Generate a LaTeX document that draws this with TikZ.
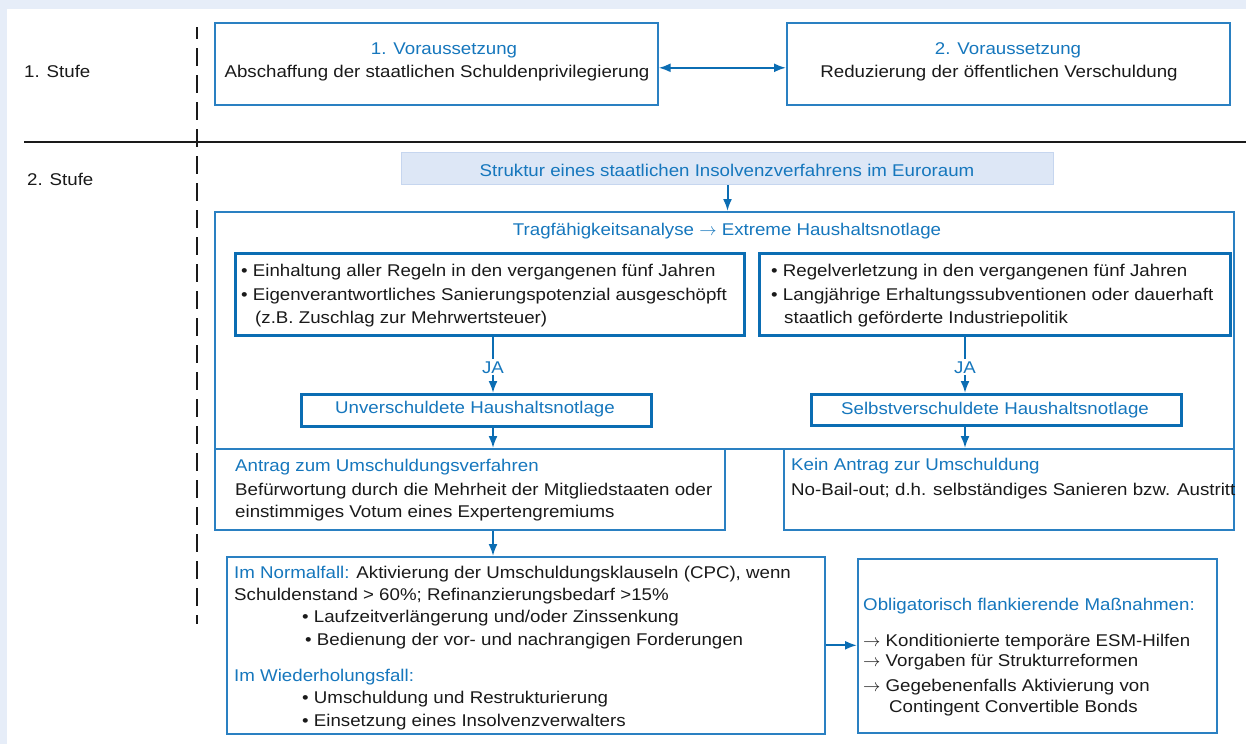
\documentclass[tikz,border=0pt]{standalone}
\usepackage{fontspec}
\setmainfont{Liberation Sans}[FakeStretch=1.1]
\usetikzlibrary{arrows.meta}
\definecolor{bgblue}{HTML}{E6EDF8}
\definecolor{tblue}{HTML}{1677BD}
\definecolor{bblue}{HTML}{2A80C2}
\definecolor{kblue}{HTML}{0B6DB3}
\definecolor{sfill}{HTML}{DDE7F6}
\definecolor{sdraw}{HTML}{C6D6EF}
\definecolor{ink}{HTML}{1A1A1A}
\newcommand{\rarr}{\ensuremath{\rightarrow}}
\begin{document}
\begin{tikzpicture}[x=1pt,y=-1pt,
  every node/.style={font=\fontsize{17}{22}\selectfont, inner sep=0pt, text=ink},
  thinbox/.style={draw=bblue, line width=1.6pt, anchor=north west},
  thickbox/.style={draw=kblue, line width=3pt, anchor=north west},
  txt/.style={anchor=base west},
  ctxt/.style={anchor=base},
  btxt/.style={text=tblue},
  tip/.style={-{Latex[length=12pt,width=9pt]}},
  conn/.style={draw=kblue, line width=2pt, tip},
  link/.style={draw=kblue, line width=2pt},
]
\useasboundingbox (0,0) rectangle (1246,744);
\fill[bgblue] (0,0) rectangle (1246,744);
\fill[white] (7,9) rectangle (1246,744);

% stage separators
\draw[line width=2.5pt, ink] (24,142) -- (1246,142);
\draw[line width=2.5pt, ink, dash pattern=on 18pt off 9pt, dash phase=6pt] (197,27) -- (197,624);
\node[txt] (s1) at (24,77) {1. Stufe};
\node[txt] (s2) at (27,185) {2. Stufe};

% boxes
\node[thinbox, minimum width=443, minimum height=82] (V1) at (214,22) {};
\node[thinbox, minimum width=443, minimum height=82] (V2) at (786,22) {};
\node[draw=sdraw, fill=sfill, line width=1pt, anchor=north west, minimum width=652, minimum height=32] (Str) at (401,152) {};
\node[thinbox, minimum width=1019, minimum height=237] (Tr) at (214,211) {};
\node[thickbox, minimum width=509, minimum height=82] (L) at (234,252) {};
\node[thickbox, minimum width=471, minimum height=82] (R) at (758,252) {};
\node[thickbox, minimum width=350, minimum height=32] (Unv) at (300,393) {};
\node[thickbox, minimum width=370, minimum height=31] (Sel) at (810,393) {};
\node[thinbox, minimum width=510, minimum height=81] (Ant) at (214,448) {};
\node[thinbox, minimum width=450, minimum height=81] (Kein) at (783,448) {};
\node[thinbox, minimum width=598, minimum height=177] (Norm) at (226,556) {};
\node[thinbox, minimum width=359, minimum height=174] (Obl) at (857,558) {};

% texts
\node[ctxt, btxt] (v1a) at (444,54) {1. Voraussetzung};
\node[ctxt] (v1b) at (437,77) {Abschaffung der staatlichen Schuldenprivilegierung};
\node[ctxt, btxt] (v2a) at (1008,54) {2. Voraussetzung};
\node[ctxt] (v2b) at (999,77) {Reduzierung der öffentlichen Verschuldung};
\node[ctxt, btxt] (strt) at (727,176) {Struktur eines staatlichen Insolvenzverfahrens im Euroraum};
\node[ctxt, btxt] (trt) at (727,235) {Tragfähigkeitsanalyse \rarr{} Extreme Haushaltsnotlage};
\node[txt] (l1) at (241,276) {• Einhaltung aller Regeln in den vergangenen fünf Jahren};
\node[txt] (l2) at (241,300) {• Eigenverantwortliches Sanierungspotenzial ausgeschöpft};
\node[txt] (l3) at (255,323) {(z.B. Zuschlag zur Mehrwertsteuer)};
\node[txt] (r1) at (771,276) {• Regelverletzung in den vergangenen fünf Jahren};
\node[txt] (r2) at (771,300) {• Langjährige Erhaltungssubventionen oder dauerhaft};
\node[txt] (r3) at (784,323) {staatlich geförderte Industriepolitik};
\node[ctxt, btxt, inner sep=2pt] (JA1) at (493,373) {JA};
\node[ctxt, btxt, inner sep=2pt] (JA2) at (965,373) {JA};
\node[ctxt, btxt] (unvt) at (475,413) {Unverschuldete Haushaltsnotlage};
\node[ctxt, btxt] (selt) at (995,414) {Selbstverschuldete Haushaltsnotlage};
\node[txt, btxt] (a1) at (235,471) {Antrag zum Umschuldungsverfahren};
\node[txt] (a2) at (235,495) {Befürwortung durch die Mehrheit der Mitgliedstaaten oder};
\node[txt] (a3) at (235,517) {einstimmiges Votum eines Expertengremiums};
\node[txt, btxt] (k1) at (791,470) {Kein Antrag zur Umschuldung};
\node[txt] (k2) at (791,495) {No-Bail-out; d.h. selbständiges Sanieren bzw. Austritt};
\node[txt] (n1) at (234,578) {\textcolor{tblue}{Im Normalfall:} Aktivierung der Umschuldungsklauseln (CPC), wenn};
\node[txt] (n2) at (234,600) {Schuldenstand > 60\%; Refinanzierungsbedarf >15\%};
\node[txt] (n3) at (302,622) {• Laufzeitverlängerung und/oder Zinssenkung};
\node[txt] (n4) at (305,645) {• Bedienung der vor- und nachrangigen Forderungen};
\node[txt, btxt] (n5) at (234,681) {Im Wiederholungsfall:};
\node[txt] (n6) at (302,703) {• Umschuldung und Restrukturierung};
\node[txt] (n7) at (302,726) {• Einsetzung eines Insolvenzverwalters};
\node[txt, btxt] (o1) at (863,610) {Obligatorisch flankierende Maßnahmen:};
\node[txt] (o2) at (863,646) {\rarr{} Konditionierte temporäre ESM-Hilfen};
\node[txt] (o3) at (863,666) {\rarr{} Vorgaben für Strukturreformen};
\node[txt] (o4) at (863,691) {\rarr{} Gegebenenfalls Aktivierung von};
\node[txt] (o5) at (889,712) {Contingent Convertible Bonds};

% connectors
\coordinate (cl) at (493,0);
\coordinate (cr) at (965,0);
\draw[conn, {Latex[length=12pt,width=9pt]}-{Latex[length=12pt,width=9pt]}] ([yshift=-4pt]V1.east) -- ([yshift=-4pt]V2.west);
\draw[conn] (Str.south) -- (Str.south |- Tr.north);
\draw[link] (L.south -| cl) -- (JA1.north);
\draw[conn] (JA1.south) -- (Unv.north -| cl);
\draw[conn] (Unv.south -| cl) -- (Ant.north -| cl);
\draw[conn] (Ant.south -| cl) -- (Norm.north -| cl);
\draw[link] (R.south -| cr) -- (JA2.north);
\draw[conn] (JA2.south) -- (Sel.north -| cr);
\draw[conn] (Sel.south -| cr) -- (Kein.north -| cr);
\draw[conn] (Norm.east) -- (Obl.west |- Norm.east);
\end{tikzpicture}
\end{document}
